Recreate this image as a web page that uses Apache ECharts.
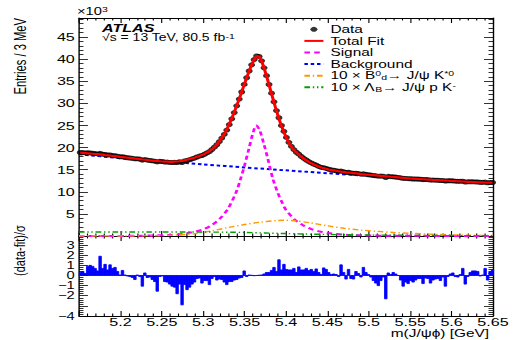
<!DOCTYPE html>
<html><head><meta charset="utf-8">
<script src="https://cdn.jsdelivr.net/npm/echarts/dist/echarts.min.js"></script>
<style>html,body{margin:0;padding:0;background:#fff;overflow:hidden}
#wrap{width:513px;height:340px;overflow:hidden;position:relative;background:#fff}
#c{height:340px;transform-origin:0 0;}</style>
</head><body>
<div id="wrap"><div id="c"></div></div>
<script>
// ---------- data (yields in units of 10^3 entries / 3 MeV) ----------
const massStart = 5.15;
const binWidth = 0.003;
const dataK = [
18.89,18.85,18.78,18.82,18.78,18.72,18.64,18.56,18.70,18.49,
18.44,18.32,18.34,18.19,18.15,18.05,17.91,17.92,17.81,17.69,
17.64,17.57,17.45,17.46,17.39,17.16,17.28,17.17,17.08,17.0,
16.92,16.75,16.89,16.84,16.72,16.72,16.64,16.61,16.65,16.62,
16.79,16.62,16.98,17.07,17.25,17.44,17.62,17.86,18.07,18.2,
18.48,18.78,19.08,19.56,20.09,20.64,21.35,22.14,23.0,23.96,
25.2,26.5,27.92,29.43,30.96,32.56,34.28,35.78,37.31,38.7,
39.9,40.7,40.61,39.61,38.03,36.26,34.26,32.3,30.35,28.37,
26.75,24.99,23.67,22.29,21.18,20.28,19.54,18.94,18.51,17.97,
17.57,17.19,16.82,16.53,16.25,16.03,15.74,15.51,15.45,15.28,
15.09,14.96,14.87,14.76,14.64,14.68,14.54,14.36,14.42,14.26,
14.16,14.2,14.12,13.98,14.05,13.94,13.86,13.78,13.69,13.61,
13.53,13.54,13.53,13.23,13.48,13.41,13.38,13.32,13.25,13.15,
13.03,13.02,12.96,12.94,12.89,12.89,12.86,12.83,12.75,12.77,
12.73,12.65,12.65,12.63,12.6,12.54,12.55,12.42,12.49,12.49,
12.47,12.4,12.36,12.36,12.4,12.19,12.25,12.26,12.25,12.23,
12.21,12.13,12.13,12.18,12.03,12.1,12.1];
const fitK = [
18.85,18.8,18.75,18.7,18.65,18.6,18.55,18.5,18.45,18.4,
18.3,18.25,18.2,18.1,18.05,18.0,17.9,17.85,17.8,17.7,
17.65,17.6,17.5,17.45,17.4,17.3,17.25,17.2,17.1,17.05,
17.0,16.95,16.9,16.85,16.8,16.8,16.75,16.75,16.8,16.85,
16.9,17.0,17.1,17.25,17.4,17.55,17.7,17.9,18.1,18.3,
18.55,18.85,19.2,19.6,20.1,20.7,21.4,22.2,23.1,24.1,
25.3,26.6,28.0,29.5,31.0,32.6,34.2,35.8,37.3,38.7,
39.9,40.7,40.6,39.6,38.0,36.2,34.2,32.2,30.2,28.3,
26.5,24.9,23.5,22.2,21.1,20.2,19.45,18.9,18.4,17.9,
17.5,17.1,16.75,16.45,16.2,15.95,15.7,15.5,15.35,15.2,
15.05,14.95,14.85,14.75,14.65,14.55,14.5,14.4,14.35,14.3,
14.2,14.15,14.1,14.0,13.95,13.9,13.85,13.8,13.75,13.7,
13.65,13.6,13.55,13.5,13.45,13.4,13.35,13.3,13.25,13.2,
13.15,13.1,13.05,13.0,12.97,12.94,12.9,12.87,12.84,12.8,
12.77,12.74,12.7,12.67,12.64,12.6,12.57,12.54,12.5,12.47,
12.44,12.41,12.38,12.35,12.32,12.29,12.26,12.23,12.2,12.18,
12.16,12.14,12.12,12.1,12.08,12.06,12.04];
const resid = [
0.3,0.4,0.2,0.9,1.0,0.9,0.7,0.45,1.9,0.7,
1.1,0.55,1.05,0.7,0.8,0.4,0.05,0.5,0.05,-0.05,
-0.1,-0.2,-0.4,0.05,-0.1,-1.05,0.25,-0.2,-0.15,-0.4,
-0.6,-1.55,-0.1,-0.05,-0.6,-0.65,-0.85,-1.05,-1.15,-1.8,
-0.85,-2.9,-0.9,-1.4,-1.15,-0.85,-0.65,-0.3,-0.25,-0.75,
-0.5,-0.5,-0.9,-0.3,-0.1,-0.45,-0.35,-0.4,-0.65,-0.9,
-0.6,-0.6,-0.45,-0.4,-0.25,-0.2,0.45,-0.1,0.05,0.02,
-0.02,0.0,0.03,0.05,0.15,0.3,0.3,0.5,0.8,0.4,
1.55,0.55,1.1,0.6,0.55,0.55,0.7,0.3,0.85,0.55,
0.55,0.7,0.5,0.6,0.4,0.65,0.3,0.1,0.75,0.6,
0.3,0.1,0.15,0.1,-0.1,1.05,0.3,-0.35,0.6,-0.3,
-0.35,0.4,0.2,-0.15,0.8,0.3,0.1,-0.15,-0.5,-0.75,
-1.0,-0.5,-0.15,-2.3,0.25,0.1,0.3,0.15,0.0,-0.45,
-1.05,-0.65,-0.8,-0.5,-0.65,-0.45,-0.3,-0.3,-0.8,-0.25,
-0.3,-0.75,-0.45,-0.35,-0.3,-0.5,-0.15,-1.05,-0.1,0.15,
0.25,-0.1,-0.15,0.1,0.7,-0.85,-0.1,0.3,0.45,0.45,
0.4,-0.05,0.05,0.7,-0.45,0.35,0.55];
// fit components
const sigM = [5.15,5.22,5.26,5.28,5.30,5.31,5.32,5.33,5.34,5.345,5.35,5.355,5.36,5.364,5.368,5.373,5.378,5.384,5.39,5.396,5.40,5.41,5.42,5.43,5.44,5.45,5.47,5.50,5.55,5.65];
const sigV = [0,0.05,0.25,0.6,1.5,2.4,3.9,6.2,10.0,12.8,16.0,19.6,23.2,25.0,24.0,21.0,17.5,13.0,9.8,7.3,5.9,3.8,2.5,1.6,1.05,0.7,0.3,0.12,0.04,0];
const bgM = [5.15,5.20,5.25,5.30,5.35,5.40,5.45,5.50,5.55,5.60,5.65];
const bgV = [18.5,17.6,16.9,16.2,15.5,14.85,14.2,13.6,13.05,12.55,12.05];
const bdM = [5.15,5.22,5.25,5.27,5.29,5.31,5.33,5.35,5.37,5.39,5.40,5.41,5.43,5.45,5.47,5.49,5.51,5.53,5.55,5.58,5.62,5.65];
const bdV = [0,0.02,0.08,0.22,0.55,1.15,1.9,2.6,3.15,3.5,3.55,3.45,2.95,2.3,1.75,1.35,1.05,0.8,0.6,0.38,0.18,0.1];
const lbM = [5.15,5.25,5.30,5.35,5.40,5.45,5.50,5.55,5.60,5.65];
const lbV = [0.9,0.92,0.9,0.8,0.55,0.35,0.22,0.15,0.1,0.08];
const xTickStep = 0.05, yMainStep = 5, yResStep = 1;

// ---------- layout (reference is stretched horizontally) ----------
const S = 1.4;
const W = 513 / S;
const FONT = '"Liberation Sans", Arial, Helvetica, sans-serif';
const dom = document.getElementById('c');
dom.style.width = W + 'px';
dom.style.transform = 'scaleX(' + S + ')';
const chart = echarts.init(dom, null, {renderer: 'svg', width: W, height: 340});

const centers = dataK.map((_, i) => +(massStart + (i + 0.5) * binWidth).toFixed(4));
const zip = (a, b) => a.map((v, i) => [v, b[i]]);

const gl = 79 / S, gw = 414 / S;
const black = '#000';
function xAx(grid, pos, labels) {
  return {
    type: 'value', gridIndex: grid, position: pos, min: 5.15, max: 5.65, interval: xTickStep,
    axisLine: {show: true, onZero: false, lineStyle: {color: black, width: 1}},
    axisTick: {show: true, inside: true, length: 5, lineStyle: {color: black, width: 0.8}},
    minorTick: {show: true, splitNumber: 5, length: 2.5, lineStyle: {color: black, width: 0.8}},
    splitLine: {show: false},
    axisLabel: labels ? {show: true, margin: 0, lineHeight: 12, fontFamily: FONT, fontSize: 11.5, color: black,
      showMinLabel: false, formatter: v => String(+v.toFixed(2))} : {show: false}
  };
}
function yAx(grid, pos, min, max, step, labels, fmt, fs) {
  return {
    type: 'value', gridIndex: grid, position: pos, min: min, max: max, interval: step,
    axisLine: {show: true, onZero: false, lineStyle: {color: black, width: 1}},
    axisTick: {show: true, inside: true, length: 6.4, lineStyle: {color: black, width: 0.8}},
    minorTick: {show: true, splitNumber: 5, length: 3.2, lineStyle: {color: black, width: 0.8}},
    splitLine: {show: false},
    axisLabel: labels ? {show: true, margin: 3, lineHeight: 9, fontFamily: FONT, fontSize: fs, color: black,
      showMinLabel: grid === 1, showMaxLabel: false, hideOverlap: false, formatter: fmt} : {show: false}
  };
}

const rich = {
  sup: {fontSize: 7.5, fontFamily: FONT, verticalAlign: 'top', lineHeight: 8, color: black},
  sub: {fontSize: 7.5, fontFamily: FONT, verticalAlign: 'bottom', lineHeight: 8, color: black}
};
const legendNames = {
  'Bd': '10 × B{sup|0}{sub|d}→ J/ψ K{sup|*0}',
  'Lb': '10 × Λ{sub|B}→ J/ψ p K{sup|-}'
};
const hideSym = {opacity: 0};

const option = {
  backgroundColor: '#fff',
  animation: false,
  grid: [
    {left: gl, width: gw, top: 18, height: 218},
    {left: gl, width: gw, top: 236, height: 80}
  ],
  xAxis: [xAx(0, 'bottom', false), xAx(0, 'top', false), xAx(1, 'bottom', true), xAx(1, 'top', false)],
  yAxis: [
    yAx(0, 'left', 0, 49.3, yMainStep, true, v => String(v), 11.5),
    yAx(0, 'right', 0, 49.3, yMainStep, false),
    yAx(1, 'left', -4, 3.9, yResStep, true, v => v < 0 ? '\u2212' + (-v) : String(v), 10.5),
    yAx(1, 'right', -4, 3.9, yResStep, false)
  ],
  legend: {
    orient: 'vertical', left: 303 / S, top: 23.5, padding: 0,
    itemWidth: 19 / S, itemHeight: 5, itemGap: 0,
    textStyle: {fontFamily: FONT, fontSize: 11, color: black, lineHeight: 11.6, rich: rich},
    formatter: n => legendNames[n] || n,
    data: [
      {name: 'Data'},
      {name: 'Total Fit', itemStyle: hideSym},
      {name: 'Signal', itemStyle: hideSym},
      {name: 'Background', itemStyle: hideSym},
      {name: 'Bd', itemStyle: hideSym},
      {name: 'Lb', itemStyle: hideSym}
    ]
  },
  series: [
    {name: 'Background', type: 'line', xAxisIndex: 0, yAxisIndex: 0, data: zip(bgM, bgV),
      symbol: 'none', showSymbol: false, smooth: 0.3, z: 2, color: '#0000ff',
      lineStyle: {color: '#0000ff', width: 2, type: [2.5, 2]}},
    {name: 'Signal', type: 'line', xAxisIndex: 0, yAxisIndex: 0, data: zip(sigM, sigV),
      symbol: 'none', showSymbol: false, smooth: 0.3, z: 2, color: '#ff00ff',
      lineStyle: {color: '#ff00ff', width: 2, type: [4, 3]}},
    {name: 'Bd', type: 'line', xAxisIndex: 0, yAxisIndex: 0, data: zip(bdM, bdV),
      symbol: 'none', showSymbol: false, smooth: 0.3, z: 2, color: '#ff9900',
      lineStyle: {color: '#ff9900', width: 1.4, type: [4, 2, 1, 2]}},
    {name: 'Lb', type: 'line', xAxisIndex: 0, yAxisIndex: 0, data: zip(lbM, lbV),
      symbol: 'none', showSymbol: false, smooth: 0.3, z: 2, color: '#00a000',
      lineStyle: {color: '#00a000', width: 1.4, type: [4, 2, 1, 2, 1, 2]}},
    {name: 'Data', type: 'scatter', xAxisIndex: 0, yAxisIndex: 0, data: zip(centers, dataK),
      symbol: 'circle', symbolSize: 5, z: 3, itemStyle: {color: black}},
    {name: 'Total Fit', type: 'line', xAxisIndex: 0, yAxisIndex: 0, data: zip(centers, fitK),
      symbol: 'none', showSymbol: false, z: 4, color: '#ff0000',
      lineStyle: {color: '#ff0000', width: 2.2}},
    {name: 'Residual', type: 'custom', xAxisIndex: 2, yAxisIndex: 2, data: zip(centers, resid), clip: true,
      renderItem: function (params, api) {
        const x = api.value(0), v = api.value(1);
        const p0 = api.coord([x - binWidth / 2, 0]);
        const p1 = api.coord([x + binWidth / 2, v]);
        return {type: 'rect',
          shape: {x: p0[0], y: Math.min(p0[1], p1[1]), width: p1[0] - p0[0], height: Math.abs(p1[1] - p0[1])},
          style: {fill: '#0000ff', stroke: '#0000ff', lineWidth: 0.7}};
      }}
  ],
  graphic: [
    {type: 'text', x: 77 / S, y: 17, style: {text: '×10{sup|3}', fontFamily: FONT, fontSize: 10.5, fill: black,
      verticalAlign: 'bottom', rich: rich}},
    {type: 'text', x: 102 / S, y: 27.5, style: {text: 'ATLAS', fontFamily: FONT, fontSize: 11.5, fontWeight: 'bold',
      fontStyle: 'italic', fill: black, verticalAlign: 'middle'}},
    {type: 'text', x: 102 / S, y: 38, style: {text: '√s = 13 TeV, 80.5 fb{sup|-1}', fontFamily: FONT, fontSize: 10,
      fill: black, verticalAlign: 'middle', rich: rich}},
    {type: 'text', x: 21 / S, y: 18, rotation: Math.PI / 2, style: {text: 'Entries / 3 MeV', fontFamily: FONT,
      fontSize: 11.2, fill: black, align: 'right', verticalAlign: 'middle'}},
    {type: 'text', x: 19.5 / S, y: 276, rotation: Math.PI / 2, style: {text: '(data-fit)/σ', fontFamily: FONT,
      fontSize: 11, fill: black, align: 'left', verticalAlign: 'middle'}},
    {type: 'text', x: 489 / S, y: 333, style: {text: 'm(J/ψϕ) [GeV]', fontFamily: FONT, fontSize: 11,
      lineHeight: 11, fill: black, align: 'right', verticalAlign: 'middle'}}
  ]
};
chart.setOption(option);
</script>
</body></html>
